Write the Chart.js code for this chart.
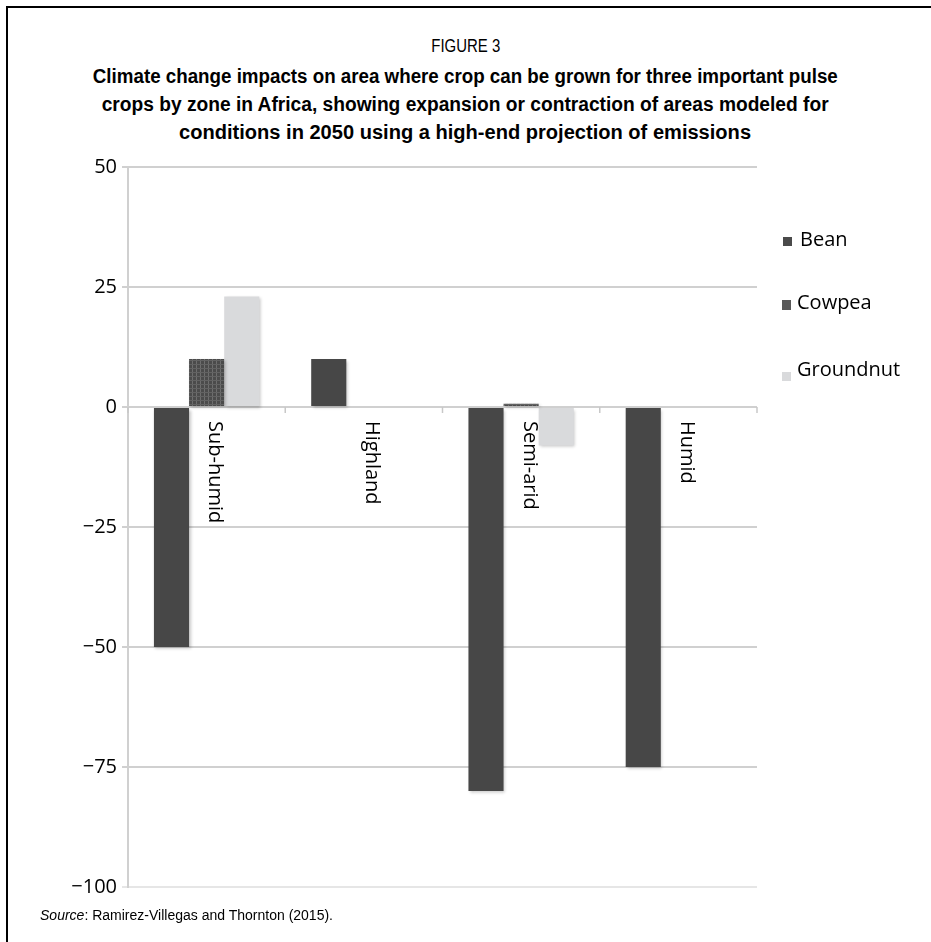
<!DOCTYPE html>
<html>
<head>
<meta charset="utf-8">
<script src="https://cdn.jsdelivr.net/npm/chart.js@4/dist/chart.umd.min.js"></script>
<style>
  html, body { margin: 0; padding: 0; background: #fff; }
  body { width: 931px; height: 942px; position: relative; overflow: hidden; }
  #frame { position: absolute; left: 6px; top: 6px; right: -10px; bottom: -10px; border-left: 2px solid #000; border-top: 2px solid #000; }
  .txt { font-family: "Liberation Sans", Arial, sans-serif; color: #000; }
  #title { position: absolute; left: 0; top: 33px; width: 931px; text-align: center; }
  #title .line { white-space: nowrap; }
  #title .line span { display: inline-block; transform-origin: 50% 50%; }
  #title .fig { font-size: 19px; line-height: 26px; }
  #title .main { font-size: 20px; font-weight: bold; line-height: 28px; }
  #title .first { margin-top: 3px; }
  #source { position: absolute; left: 40px; top: 907px; font-size: 14px; transform-origin: 0 50%; white-space: nowrap; }
  canvas { position: absolute; left: 0; top: 0; }
</style>
</head>
<body>
<div id="frame"></div>
<div id="title" class="txt">
  <div class="line fig"><span data-w="69">FIGURE 3</span></div>
  <div class="line main first"><span data-w="745">Climate change impacts on area where crop can be grown for three important pulse</span></div>
  <div class="line main"><span data-w="727">crops by zone in Africa, showing expansion or contraction of areas modeled for</span></div>
  <div class="line main"><span data-w="572">conditions in 2050 using a high-end projection of emissions</span></div>
</div>
<canvas id="c" width="931" height="942"></canvas>
<div id="source" class="txt" data-w="293"><i>Source</i>: Ramirez-Villegas and Thornton (2015).</div>
<script>
// ---- data ----
const categories = ['Sub-humid', 'Highland', 'Semi-arid', 'Humid'];
const seriesNames = ['Bean', 'Cowpea', 'Groundnut'];
const bean = [-50, 10, -80, -75];
const cowpea = [10, 0, 0.7, 0];
const groundnut = [23, 0, -8, 0];
const yTicks = [50, 25, 0, -25, -50, -75, -100];
const yTickLabels = ['50', '25', '0', '\u221225', '\u221250', '\u221275', '\u2212100'];

// condense the title / source text horizontally to the reference widths
document.querySelectorAll('[data-w]').forEach(el => {
  const w = el.getBoundingClientRect().width;
  const target = parseFloat(el.getAttribute('data-w'));
  if (w > 0) el.style.transform = 'scaleX(' + (target / w).toFixed(4) + ')';
});

// ---- styles ----
const FONT = '"Open Sans", "Noto Sans", sans-serif';
function makeCowpeaPattern() {
  const p = document.createElement('canvas');
  p.width = 4; p.height = 4;
  const g = p.getContext('2d');
  g.fillStyle = '#4b4b4b'; g.fillRect(0, 0, 4, 4);
  g.fillStyle = '#6e6e6e'; g.fillRect(0, 0, 1, 4);
  g.fillStyle = '#626262'; g.fillRect(0, 0, 4, 1);
  return document.getElementById('c').getContext('2d').createPattern(p, 'repeat');
}
const colors = ['#474747', makeCowpeaPattern(), '#d9dadc'];
const legendSwatch = ['#4a4a4a', '#595959', '#d9dadc'];

const shadowPlugin = {
  id: 'barShadow',
  beforeDatasetsDraw(chart) {
    const ctx = chart.ctx;
    ctx.save();
    ctx.shadowColor = 'rgba(0,0,0,0.22)';
    ctx.shadowBlur = 3;
    ctx.shadowOffsetX = 1.5;
    ctx.shadowOffsetY = 1.5;
  },
  afterDatasetsDraw(chart) {
    chart.ctx.restore();
  }
};

const catLabelPlugin = {
  id: 'catLabels',
  afterDatasetsDraw(chart) {
    const ctx = chart.ctx;
    const xs = chart.scales.x, ys = chart.scales.y;
    const y0 = ys.getPixelForValue(0);
    ctx.save();
    ctx.strokeStyle = '#c8c8c8';
    ctx.lineWidth = 1.5;
    const n = categories.length;
    for (let i = 0; i <= n; i++) {
      let x;
      if (i === 0) x = chart.chartArea.left;
      else if (i === n) x = chart.chartArea.right;
      else x = (xs.getPixelForValue(i - 1) + xs.getPixelForValue(i)) / 2;
      ctx.beginPath(); ctx.moveTo(x, y0); ctx.lineTo(x, y0 + 6); ctx.stroke();
    }
    ctx.fillStyle = '#000';
    ctx.font = '20px ' + FONT;
    ctx.textAlign = 'left';
    ctx.textBaseline = 'alphabetic';
    categories.forEach((c, i) => {
      const xc = xs.getPixelForValue(i);
      ctx.save();
      ctx.translate(xc + 2.5, y0 + 14);
      ctx.rotate(Math.PI / 2);
      ctx.fillText(c, 0, 0);
      ctx.restore();
    });
    ctx.restore();
  },
  afterDraw(chart) {
    const ctx = chart.ctx;
    const right = chart.chartArea.right;
    ctx.save();
    ctx.font = '20px ' + FONT;
    ctx.textBaseline = 'alphabetic';
    ctx.textAlign = 'left';
    const baselines = [246, 309, 376];
    const textX = [right + 43, right + 40, right + 40];
    const boxX = [right + 26, right + 25, right + 25];
    chart.data.datasets.forEach((ds, i) => {
      ctx.fillStyle = legendSwatch[i];
      ctx.fillRect(boxX[i], baselines[i] - 9 + (i === 2 ? 5 : 0), 9, 9 + (i === 1 ? 1 : 0));
      ctx.fillStyle = '#000';
      ctx.fillText(ds.label, textX[i], baselines[i]);
    });
    ctx.restore();
  }
};

new Chart(document.getElementById('c'), {
  type: 'bar',
  data: {
    labels: categories,
    datasets: [
      { label: seriesNames[0], data: bean, backgroundColor: colors[0] },
      { label: seriesNames[1], data: cowpea, backgroundColor: colors[1] },
      { label: seriesNames[2], data: groundnut, backgroundColor: colors[2] }
    ]
  },
  options: {
    responsive: false,
    animation: false,
    devicePixelRatio: 1,
    layout: { padding: { top: 167, right: 174, bottom: 55, left: 0 } },
    datasets: { bar: { categoryPercentage: 0.67, barPercentage: 1.0, borderWidth: 0 } },
    plugins: { legend: { display: false }, tooltip: { enabled: false }, title: { display: false } },
    scales: {
      x: { display: false, offset: true, grid: { display: false } },
      y: {
        min: -100, max: 50,
        afterBuildTicks(scale) { scale.ticks = yTicks.map(v => ({ value: v })); },
        afterFit(scale) { scale.width = 128; },
        ticks: {
          font: { family: FONT, size: 20 },
          color: '#000',
          padding: 5,
          callback: (v) => { const k = yTicks.indexOf(v); return k >= 0 ? yTickLabels[k] : ''; }
        },
        grid: {
          color: (c) => (c.tick && c.tick.value === -100) ? '#e6e6e6' : '#d0d0d0',
          lineWidth: 2, tickLength: 6, drawTicks: true
        },
        border: { display: true, color: '#d0d0d0', width: 2 }
      }
    }
  },
  plugins: [shadowPlugin, catLabelPlugin]
});
</script>
</body>
</html>
